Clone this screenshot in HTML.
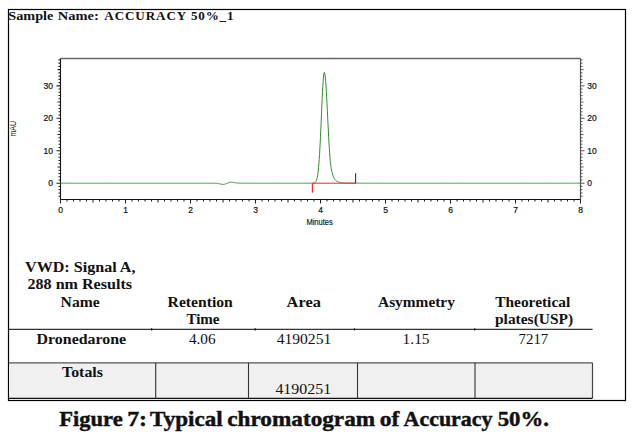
<!DOCTYPE html>
<html><head><meta charset="utf-8"><style>
html,body{margin:0;padding:0;background:#fff;width:632px;height:441px;overflow:hidden;font-family:"Liberation Sans",sans-serif;}
</style></head><body>
<svg width="632" height="441" viewBox="0 0 632 441" style="position:absolute;left:0;top:0">
<rect x="0" y="0" width="632" height="441" fill="#fff"/>
<rect x="8.5" y="9.5" width="617" height="391" fill="none" stroke="#000" stroke-width="1.2"/>
<path d="M60.5 58.5 H580.5" fill="none" stroke="#666" stroke-width="1.7"/>
<path d="M580.5 58.5 V199.5" fill="none" stroke="#555" stroke-width="1.2"/>
<path d="M60.5 58.5 V199.5 H580.5" fill="none" stroke="#111" stroke-width="1.1"/>
<path d="M58.50 196.18H60.50M58.50 192.94H60.50M58.50 189.69H60.50M58.50 186.44H60.50M56.50 183.20H60.50M58.50 179.95H60.50M58.50 176.71H60.50M58.50 173.46H60.50M58.50 170.22H60.50M57.50 166.97H60.50M58.50 163.73H60.50M58.50 160.48H60.50M58.50 157.24H60.50M58.50 153.99H60.50M56.50 150.75H60.50M58.50 147.50H60.50M58.50 144.26H60.50M58.50 141.01H60.50M58.50 137.77H60.50M57.50 134.52H60.50M58.50 131.28H60.50M58.50 128.03H60.50M58.50 124.79H60.50M58.50 121.54H60.50M56.50 118.30H60.50M58.50 115.05H60.50M58.50 111.81H60.50M58.50 108.56H60.50M58.50 105.32H60.50M57.50 102.07H60.50M58.50 98.83H60.50M58.50 95.58H60.50M58.50 92.34H60.50M58.50 89.09H60.50M56.50 85.85H60.50M58.50 82.60H60.50M58.50 79.36H60.50M58.50 76.11H60.50M58.50 72.87H60.50M57.50 69.62H60.50M58.50 66.38H60.50M58.50 63.13H60.50M58.50 59.89H60.50M60.50 199.50V203.50M67.00 199.50V201.50M73.50 199.50V201.50M80.00 199.50V201.50M86.50 199.50V201.50M93.00 199.50V202.50M99.50 199.50V201.50M106.00 199.50V201.50M112.50 199.50V201.50M119.00 199.50V201.50M125.50 199.50V203.50M132.00 199.50V201.50M138.50 199.50V201.50M145.00 199.50V201.50M151.50 199.50V201.50M158.00 199.50V202.50M164.50 199.50V201.50M171.00 199.50V201.50M177.50 199.50V201.50M184.00 199.50V201.50M190.50 199.50V203.50M197.00 199.50V201.50M203.50 199.50V201.50M210.00 199.50V201.50M216.50 199.50V201.50M223.00 199.50V202.50M229.50 199.50V201.50M236.00 199.50V201.50M242.50 199.50V201.50M249.00 199.50V201.50M255.50 199.50V203.50M262.00 199.50V201.50M268.50 199.50V201.50M275.00 199.50V201.50M281.50 199.50V201.50M288.00 199.50V202.50M294.50 199.50V201.50M301.00 199.50V201.50M307.50 199.50V201.50M314.00 199.50V201.50M320.50 199.50V203.50M327.00 199.50V201.50M333.50 199.50V201.50M340.00 199.50V201.50M346.50 199.50V201.50M353.00 199.50V202.50M359.50 199.50V201.50M366.00 199.50V201.50M372.50 199.50V201.50M379.00 199.50V201.50M385.50 199.50V203.50M392.00 199.50V201.50M398.50 199.50V201.50M405.00 199.50V201.50M411.50 199.50V201.50M418.00 199.50V202.50M424.50 199.50V201.50M431.00 199.50V201.50M437.50 199.50V201.50M444.00 199.50V201.50M450.50 199.50V203.50M457.00 199.50V201.50M463.50 199.50V201.50M470.00 199.50V201.50M476.50 199.50V201.50M483.00 199.50V202.50M489.50 199.50V201.50M496.00 199.50V201.50M502.50 199.50V201.50M509.00 199.50V201.50M515.50 199.50V203.50M522.00 199.50V201.50M528.50 199.50V201.50M535.00 199.50V201.50M541.50 199.50V201.50M548.00 199.50V202.50M554.50 199.50V201.50M561.00 199.50V201.50M567.50 199.50V201.50M574.00 199.50V201.50M580.50 199.50V203.50" stroke="#222" stroke-width="1.05" fill="none"/>
<path d="M580.50 196.18H582.50M580.50 192.94H582.50M580.50 189.69H582.50M580.50 186.44H582.50M580.50 183.20H584.50M580.50 179.95H582.50M580.50 176.71H582.50M580.50 173.46H582.50M580.50 170.22H582.50M580.50 166.97H583.50M580.50 163.73H582.50M580.50 160.48H582.50M580.50 157.24H582.50M580.50 153.99H582.50M580.50 150.75H584.50M580.50 147.50H582.50M580.50 144.26H582.50M580.50 141.01H582.50M580.50 137.77H582.50M580.50 134.52H583.50M580.50 131.28H582.50M580.50 128.03H582.50M580.50 124.79H582.50M580.50 121.54H582.50M580.50 118.30H584.50M580.50 115.05H582.50M580.50 111.81H582.50M580.50 108.56H582.50M580.50 105.32H582.50M580.50 102.07H583.50M580.50 98.83H582.50M580.50 95.58H582.50M580.50 92.34H582.50M580.50 89.09H582.50M580.50 85.85H584.50M580.50 82.60H582.50M580.50 79.36H582.50M580.50 76.11H582.50M580.50 72.87H582.50M580.50 69.62H583.50M580.50 66.38H582.50M580.50 63.13H582.50M580.50 59.89H582.50" stroke="#444" stroke-width="0.9" fill="none"/>
<text x="53.0" y="186.20" font-family="Liberation Sans, sans-serif" font-size="8.5" text-anchor="end" fill="#111" stroke="#111" stroke-width="0.2">0</text>
<text x="587.3" y="186.20" font-family="Liberation Sans, sans-serif" font-size="8.5" text-anchor="start" fill="#111" stroke="#111" stroke-width="0.2">0</text>
<text x="53.0" y="153.75" font-family="Liberation Sans, sans-serif" font-size="8.5" text-anchor="end" fill="#111" stroke="#111" stroke-width="0.2">10</text>
<text x="587.3" y="153.75" font-family="Liberation Sans, sans-serif" font-size="8.5" text-anchor="start" fill="#111" stroke="#111" stroke-width="0.2">10</text>
<text x="53.0" y="121.30" font-family="Liberation Sans, sans-serif" font-size="8.5" text-anchor="end" fill="#111" stroke="#111" stroke-width="0.2">20</text>
<text x="587.3" y="121.30" font-family="Liberation Sans, sans-serif" font-size="8.5" text-anchor="start" fill="#111" stroke="#111" stroke-width="0.2">20</text>
<text x="53.0" y="88.85" font-family="Liberation Sans, sans-serif" font-size="8.5" text-anchor="end" fill="#111" stroke="#111" stroke-width="0.2">30</text>
<text x="587.3" y="88.85" font-family="Liberation Sans, sans-serif" font-size="8.5" text-anchor="start" fill="#111" stroke="#111" stroke-width="0.2">30</text>
<text x="60.50" y="212.8" font-family="Liberation Sans, sans-serif" font-size="8.5" text-anchor="middle" fill="#111" stroke="#111" stroke-width="0.2">0</text>
<text x="125.50" y="212.8" font-family="Liberation Sans, sans-serif" font-size="8.5" text-anchor="middle" fill="#111" stroke="#111" stroke-width="0.2">1</text>
<text x="190.50" y="212.8" font-family="Liberation Sans, sans-serif" font-size="8.5" text-anchor="middle" fill="#111" stroke="#111" stroke-width="0.2">2</text>
<text x="255.50" y="212.8" font-family="Liberation Sans, sans-serif" font-size="8.5" text-anchor="middle" fill="#111" stroke="#111" stroke-width="0.2">3</text>
<text x="320.50" y="212.8" font-family="Liberation Sans, sans-serif" font-size="8.5" text-anchor="middle" fill="#111" stroke="#111" stroke-width="0.2">4</text>
<text x="385.50" y="212.8" font-family="Liberation Sans, sans-serif" font-size="8.5" text-anchor="middle" fill="#111" stroke="#111" stroke-width="0.2">5</text>
<text x="450.50" y="212.8" font-family="Liberation Sans, sans-serif" font-size="8.5" text-anchor="middle" fill="#111" stroke="#111" stroke-width="0.2">6</text>
<text x="515.50" y="212.8" font-family="Liberation Sans, sans-serif" font-size="8.5" text-anchor="middle" fill="#111" stroke="#111" stroke-width="0.2">7</text>
<text x="580.50" y="212.8" font-family="Liberation Sans, sans-serif" font-size="8.5" text-anchor="middle" fill="#111" stroke="#111" stroke-width="0.2">8</text>
<text x="306.4" y="224.9" font-family="Liberation Sans, sans-serif" font-size="8.2" fill="#111" stroke="#111" stroke-width="0.15" textLength="26.4" lengthAdjust="spacingAndGlyphs">Minutes</text>
<text transform="translate(16.2 128.8) rotate(-90)" font-family="Liberation Sans, sans-serif" font-size="8.8" text-anchor="middle" fill="#111" textLength="15.6" lengthAdjust="spacingAndGlyphs">mAU</text>
<polyline points="60.50,183.20 60.83,183.20 61.15,183.20 61.48,183.20 61.80,183.20 62.12,183.20 62.45,183.20 62.77,183.20 63.10,183.20 63.42,183.20 63.75,183.20 64.08,183.20 64.40,183.20 64.72,183.20 65.05,183.20 65.38,183.20 65.70,183.20 66.03,183.20 66.35,183.20 66.67,183.20 67.00,183.20 67.33,183.20 67.65,183.20 67.97,183.20 68.30,183.20 68.62,183.20 68.95,183.20 69.28,183.20 69.60,183.20 69.92,183.20 70.25,183.20 70.58,183.20 70.90,183.20 71.22,183.20 71.55,183.20 71.88,183.20 72.20,183.20 72.53,183.20 72.85,183.20 73.17,183.20 73.50,183.20 73.83,183.20 74.15,183.20 74.47,183.20 74.80,183.20 75.12,183.20 75.45,183.20 75.78,183.20 76.10,183.20 76.42,183.20 76.75,183.20 77.08,183.20 77.40,183.20 77.72,183.20 78.05,183.20 78.38,183.20 78.70,183.20 79.03,183.20 79.35,183.20 79.67,183.20 80.00,183.20 80.33,183.20 80.65,183.20 80.97,183.20 81.30,183.20 81.62,183.20 81.95,183.20 82.28,183.20 82.60,183.20 82.92,183.20 83.25,183.20 83.58,183.20 83.90,183.20 84.22,183.20 84.55,183.20 84.88,183.20 85.20,183.20 85.53,183.20 85.85,183.20 86.17,183.20 86.50,183.20 86.83,183.20 87.15,183.20 87.47,183.20 87.80,183.20 88.12,183.20 88.45,183.20 88.78,183.20 89.10,183.20 89.42,183.20 89.75,183.20 90.08,183.20 90.40,183.20 90.72,183.20 91.05,183.20 91.38,183.20 91.70,183.20 92.03,183.20 92.35,183.20 92.67,183.20 93.00,183.20 93.33,183.20 93.65,183.20 93.97,183.20 94.30,183.20 94.62,183.20 94.95,183.20 95.28,183.20 95.60,183.20 95.93,183.20 96.25,183.20 96.58,183.20 96.90,183.20 97.22,183.20 97.55,183.20 97.88,183.20 98.20,183.20 98.53,183.20 98.85,183.20 99.17,183.20 99.50,183.20 99.82,183.20 100.15,183.20 100.47,183.20 100.80,183.20 101.12,183.20 101.45,183.20 101.78,183.20 102.10,183.20 102.43,183.20 102.75,183.20 103.08,183.20 103.40,183.20 103.72,183.20 104.05,183.20 104.38,183.20 104.70,183.20 105.03,183.20 105.35,183.20 105.67,183.20 106.00,183.20 106.32,183.20 106.65,183.20 106.97,183.20 107.30,183.20 107.62,183.20 107.95,183.20 108.28,183.20 108.60,183.20 108.92,183.20 109.25,183.20 109.58,183.20 109.90,183.20 110.22,183.20 110.55,183.20 110.88,183.20 111.20,183.20 111.53,183.20 111.85,183.20 112.18,183.20 112.50,183.20 112.83,183.20 113.15,183.20 113.47,183.20 113.80,183.20 114.12,183.20 114.45,183.20 114.78,183.20 115.10,183.20 115.42,183.20 115.75,183.20 116.07,183.20 116.40,183.20 116.72,183.20 117.05,183.20 117.38,183.20 117.70,183.20 118.03,183.20 118.35,183.20 118.68,183.20 119.00,183.20 119.33,183.20 119.65,183.20 119.97,183.20 120.30,183.20 120.62,183.20 120.95,183.20 121.28,183.20 121.60,183.20 121.92,183.20 122.25,183.20 122.57,183.20 122.90,183.20 123.22,183.20 123.55,183.20 123.88,183.20 124.20,183.20 124.53,183.20 124.85,183.20 125.17,183.20 125.50,183.20 125.82,183.20 126.15,183.20 126.47,183.20 126.80,183.20 127.12,183.20 127.45,183.20 127.77,183.20 128.10,183.20 128.43,183.20 128.75,183.20 129.07,183.20 129.40,183.20 129.72,183.20 130.05,183.20 130.38,183.20 130.70,183.20 131.02,183.20 131.35,183.20 131.68,183.20 132.00,183.20 132.32,183.20 132.65,183.20 132.97,183.20 133.30,183.20 133.62,183.20 133.95,183.20 134.28,183.20 134.60,183.20 134.93,183.20 135.25,183.20 135.57,183.20 135.90,183.20 136.23,183.20 136.55,183.20 136.88,183.20 137.20,183.20 137.53,183.20 137.85,183.20 138.18,183.20 138.50,183.20 138.82,183.20 139.15,183.20 139.48,183.20 139.80,183.20 140.12,183.20 140.45,183.20 140.78,183.20 141.10,183.20 141.43,183.20 141.75,183.20 142.07,183.20 142.40,183.20 142.72,183.20 143.05,183.20 143.38,183.20 143.70,183.20 144.02,183.20 144.35,183.20 144.68,183.20 145.00,183.20 145.32,183.20 145.65,183.20 145.97,183.20 146.30,183.20 146.62,183.20 146.95,183.20 147.27,183.20 147.60,183.20 147.93,183.20 148.25,183.20 148.57,183.20 148.90,183.20 149.22,183.20 149.55,183.20 149.88,183.20 150.20,183.20 150.53,183.20 150.85,183.20 151.18,183.20 151.50,183.20 151.82,183.20 152.15,183.20 152.48,183.20 152.80,183.20 153.12,183.20 153.45,183.20 153.78,183.20 154.10,183.20 154.43,183.20 154.75,183.20 155.07,183.20 155.40,183.20 155.73,183.20 156.05,183.20 156.38,183.20 156.70,183.20 157.03,183.20 157.35,183.20 157.68,183.20 158.00,183.20 158.32,183.20 158.65,183.20 158.97,183.20 159.30,183.20 159.62,183.20 159.95,183.20 160.27,183.20 160.60,183.20 160.93,183.20 161.25,183.20 161.57,183.20 161.90,183.20 162.22,183.20 162.55,183.20 162.88,183.20 163.20,183.20 163.52,183.20 163.85,183.20 164.18,183.20 164.50,183.20 164.82,183.20 165.15,183.20 165.47,183.20 165.80,183.20 166.12,183.20 166.45,183.20 166.78,183.20 167.10,183.20 167.43,183.20 167.75,183.20 168.07,183.20 168.40,183.20 168.73,183.20 169.05,183.20 169.38,183.20 169.70,183.20 170.03,183.20 170.35,183.20 170.68,183.20 171.00,183.20 171.32,183.20 171.65,183.20 171.98,183.20 172.30,183.20 172.62,183.20 172.95,183.20 173.28,183.20 173.60,183.20 173.93,183.20 174.25,183.20 174.57,183.20 174.90,183.20 175.22,183.20 175.55,183.20 175.88,183.20 176.20,183.20 176.52,183.20 176.85,183.20 177.18,183.20 177.50,183.20 177.82,183.20 178.15,183.20 178.47,183.20 178.80,183.20 179.12,183.20 179.45,183.20 179.77,183.20 180.10,183.20 180.43,183.20 180.75,183.20 181.07,183.20 181.40,183.20 181.72,183.20 182.05,183.20 182.38,183.20 182.70,183.20 183.03,183.20 183.35,183.20 183.68,183.20 184.00,183.20 184.32,183.20 184.65,183.20 184.98,183.20 185.30,183.20 185.62,183.20 185.95,183.20 186.28,183.20 186.60,183.20 186.93,183.20 187.25,183.20 187.57,183.20 187.90,183.20 188.23,183.20 188.55,183.20 188.88,183.20 189.20,183.20 189.53,183.20 189.85,183.20 190.18,183.20 190.50,183.20 190.82,183.20 191.15,183.20 191.47,183.20 191.80,183.20 192.12,183.20 192.45,183.20 192.78,183.20 193.10,183.20 193.42,183.20 193.75,183.20 194.08,183.20 194.40,183.20 194.72,183.20 195.05,183.20 195.38,183.20 195.70,183.20 196.03,183.20 196.35,183.20 196.68,183.20 197.00,183.20 197.32,183.20 197.65,183.20 197.98,183.20 198.30,183.20 198.62,183.20 198.95,183.20 199.27,183.20 199.60,183.20 199.93,183.20 200.25,183.20 200.57,183.20 200.90,183.20 201.22,183.20 201.55,183.20 201.88,183.20 202.20,183.20 202.53,183.20 202.85,183.20 203.17,183.20 203.50,183.20 203.83,183.20 204.15,183.20 204.47,183.20 204.80,183.20 205.12,183.20 205.45,183.20 205.78,183.20 206.10,183.20 206.43,183.20 206.75,183.20 207.07,183.20 207.40,183.20 207.72,183.20 208.05,183.20 208.38,183.20 208.70,183.20 209.03,183.20 209.35,183.20 209.67,183.20 210.00,183.20 210.33,183.20 210.65,183.20 210.97,183.20 211.30,183.20 211.62,183.20 211.95,183.20 212.28,183.20 212.60,183.20 212.93,183.20 213.25,183.20 213.57,183.21 213.90,183.21 214.23,183.21 214.55,183.22 214.88,183.23 215.20,183.23 215.52,183.25 215.85,183.26 216.18,183.28 216.50,183.30 216.82,183.33 217.15,183.36 217.47,183.40 217.80,183.44 218.12,183.49 218.45,183.55 218.78,183.61 219.10,183.68 219.42,183.76 219.75,183.84 220.08,183.92 220.40,184.00 220.72,184.08 221.05,184.16 221.38,184.23 221.70,184.30 222.03,184.35 222.35,184.39 222.68,184.41 223.00,184.42 223.32,184.41 223.65,184.38 223.97,184.34 224.30,184.27 224.62,184.19 224.95,184.10 225.28,183.99 225.60,183.87 225.92,183.74 226.25,183.61 226.58,183.48 226.90,183.34 227.22,183.21 227.55,183.08 227.88,182.95 228.20,182.84 228.53,182.73 228.85,182.63 229.18,182.54 229.50,182.47 229.82,182.40 230.15,182.35 230.48,182.31 230.80,182.29 231.12,182.27 231.45,182.27 231.77,182.27 232.10,182.29 232.43,182.32 232.75,182.35 233.07,182.39 233.40,182.43 233.72,182.48 234.05,182.54 234.38,182.59 234.70,182.64 235.03,182.70 235.35,182.75 235.67,182.80 236.00,182.85 236.33,182.89 236.65,182.94 236.97,182.97 237.30,183.01 237.62,183.04 237.95,183.06 238.28,183.09 238.60,183.11 238.93,183.13 239.25,183.14 239.57,183.15 239.90,183.16 240.22,183.17 240.55,183.18 240.88,183.18 241.20,183.19 241.53,183.19 241.85,183.19 242.17,183.19 242.50,183.20 242.83,183.20 243.15,183.20 243.47,183.20 243.80,183.20 244.12,183.20 244.45,183.20 244.78,183.20 245.10,183.20 245.43,183.20 245.75,183.20 246.07,183.20 246.40,183.20 246.73,183.20 247.05,183.20 247.38,183.20 247.70,183.20 248.02,183.20 248.35,183.20 248.68,183.20 249.00,183.20 249.32,183.20 249.65,183.20 249.97,183.20 250.30,183.20 250.62,183.20 250.95,183.20 251.28,183.20 251.60,183.20 251.92,183.20 252.25,183.20 252.58,183.20 252.90,183.20 253.22,183.20 253.55,183.20 253.88,183.20 254.20,183.20 254.53,183.20 254.85,183.20 255.18,183.20 255.50,183.20 255.82,183.20 256.15,183.20 256.48,183.20 256.80,183.20 257.12,183.20 257.45,183.20 257.77,183.20 258.10,183.20 258.42,183.20 258.75,183.20 259.08,183.20 259.40,183.20 259.73,183.20 260.05,183.20 260.38,183.20 260.70,183.20 261.02,183.20 261.35,183.20 261.68,183.20 262.00,183.20 262.32,183.20 262.65,183.20 262.98,183.20 263.30,183.20 263.62,183.20 263.95,183.20 264.27,183.20 264.60,183.20 264.93,183.20 265.25,183.20 265.57,183.20 265.90,183.20 266.23,183.20 266.55,183.20 266.88,183.20 267.20,183.20 267.52,183.20 267.85,183.20 268.17,183.20 268.50,183.20 268.83,183.20 269.15,183.20 269.48,183.20 269.80,183.20 270.12,183.20 270.45,183.20 270.77,183.20 271.10,183.20 271.43,183.20 271.75,183.20 272.07,183.20 272.40,183.20 272.73,183.20 273.05,183.20 273.38,183.20 273.70,183.20 274.02,183.20 274.35,183.20 274.67,183.20 275.00,183.20 275.33,183.20 275.65,183.20 275.98,183.20 276.30,183.20 276.62,183.20 276.95,183.20 277.27,183.20 277.60,183.20 277.93,183.20 278.25,183.20 278.57,183.20 278.90,183.20 279.23,183.20 279.55,183.20 279.88,183.20 280.20,183.20 280.52,183.20 280.85,183.20 281.18,183.20 281.50,183.20 281.82,183.20 282.15,183.20 282.48,183.20 282.80,183.20 283.12,183.20 283.45,183.20 283.77,183.20 284.10,183.20 284.42,183.20 284.75,183.20 285.08,183.20 285.40,183.20 285.73,183.20 286.05,183.20 286.38,183.20 286.70,183.20 287.02,183.20 287.35,183.20 287.68,183.20 288.00,183.20 288.32,183.20 288.65,183.20 288.98,183.20 289.30,183.20 289.62,183.20 289.95,183.20 290.27,183.20 290.60,183.20 290.92,183.20 291.25,183.20 291.58,183.20 291.90,183.20 292.23,183.20 292.55,183.20 292.88,183.20 293.20,183.20 293.52,183.20 293.85,183.20 294.18,183.20 294.50,183.20 294.82,183.20 295.15,183.20 295.48,183.20 295.80,183.20 296.12,183.20 296.45,183.20 296.77,183.20 297.10,183.20 297.43,183.20 297.75,183.20 298.07,183.20 298.40,183.20 298.73,183.20 299.05,183.20 299.38,183.20 299.70,183.20 300.02,183.20 300.35,183.20 300.67,183.20 301.00,183.20 301.33,183.20 301.65,183.20 301.98,183.20 302.30,183.20 302.62,183.20 302.95,183.20 303.27,183.20 303.60,183.20 303.93,183.20 304.25,183.20 304.57,183.20 304.90,183.20 305.23,183.20 305.55,183.20 305.88,183.20 306.20,183.20 306.52,183.20 306.85,183.20 307.17,183.20 307.50,183.20 307.83,183.20 308.15,183.20 308.48,183.20 308.80,183.20 309.12,183.20 309.45,183.20 309.77,183.20 310.10,183.20 310.43,183.20 310.75,183.20 311.07,183.20 311.40,183.19 311.73,183.19 312.05,183.19 312.38,183.18 312.70,183.16 313.02,183.14 313.35,183.11 313.68,183.06 314.00,183.00 314.32,182.90 314.65,182.76 314.98,182.57 315.30,182.30 315.62,181.93 315.95,181.44 316.27,180.79 316.60,179.93 316.93,178.83 317.25,177.42 317.57,175.66 317.90,173.48 318.22,170.83 318.55,167.66 318.88,163.91 319.20,159.56 319.52,154.59 319.85,149.01 320.18,142.85 320.50,136.17 320.82,129.07 321.15,121.68 321.47,114.15 321.80,106.66 322.12,99.43 322.45,92.65 322.78,86.55 323.10,81.33 323.43,77.16 323.75,74.20 324.07,72.55 324.40,72.27 324.73,73.14 325.05,75.05 325.38,77.96 325.70,81.77 326.02,86.39 326.35,91.70 326.68,97.54 327.00,103.79 327.33,110.29 327.65,116.91 327.98,123.51 328.30,129.96 328.62,136.18 328.95,142.08 329.27,147.58 329.60,152.64 329.92,157.24 330.25,161.36 330.57,164.06 330.90,166.30 331.23,168.27 331.55,170.01 331.88,171.55 332.20,172.90 332.52,174.09 332.85,175.14 333.18,176.06 333.50,176.87 333.82,177.58 334.15,178.21 334.47,178.76 334.80,179.25 335.12,179.68 335.45,180.06 335.78,180.40 336.10,180.69 336.43,180.95 336.75,181.19 337.07,181.39 337.40,181.58 337.72,181.74 338.05,181.88 338.38,182.01 338.70,182.13 339.03,182.23 339.35,182.32 339.68,182.40 340.00,182.48 340.32,182.54 340.65,182.60 340.98,182.65 341.30,182.70 341.62,182.74 341.95,182.78 342.27,182.82 342.60,182.85 342.93,182.88 343.25,182.91 343.58,182.93 343.90,182.95 344.23,182.97 344.55,182.99 344.88,183.00 345.20,183.02 345.52,183.03 345.85,183.04 346.17,183.06 346.50,183.07 346.82,183.08 347.15,183.08 347.48,183.09 347.80,183.10 348.12,183.11 348.45,183.11 348.77,183.12 349.10,183.12 349.43,183.13 349.75,183.13 350.07,183.14 350.40,183.14 350.72,183.15 351.05,183.15 351.38,183.15 351.70,183.15 352.03,183.16 352.35,183.16 352.68,183.16 353.00,183.16 353.32,183.17 353.65,183.17 353.97,183.17 354.30,183.17 354.62,183.17 354.95,183.17 355.28,183.18 355.60,183.18 355.93,183.18 356.25,183.18 356.57,183.18 356.90,183.18 357.23,183.18 357.55,183.18 357.88,183.18 358.20,183.18 358.52,183.19 358.85,183.19 359.18,183.19 359.50,183.19 359.83,183.19 360.15,183.19 360.48,183.19 360.80,183.19 361.12,183.19 361.45,183.19 361.77,183.19 362.10,183.19 362.42,183.19 362.75,183.19 363.07,183.19 363.40,183.19 363.73,183.19 364.05,183.19 364.38,183.19 364.70,183.19 365.02,183.19 365.35,183.19 365.68,183.19 366.00,183.19 366.32,183.19 366.65,183.19 366.97,183.20 367.30,183.20 367.62,183.20 367.95,183.20 368.28,183.20 368.60,183.20 368.93,183.20 369.25,183.20 369.57,183.20 369.90,183.20 370.22,183.20 370.55,183.20 370.88,183.20 371.20,183.20 371.53,183.20 371.85,183.20 372.18,183.20 372.50,183.20 372.82,183.20 373.15,183.20 373.48,183.20 373.80,183.20 374.12,183.20 374.45,183.20 374.77,183.20 375.10,183.20 375.43,183.20 375.75,183.20 376.08,183.20 376.40,183.20 376.73,183.20 377.05,183.20 377.38,183.20 377.70,183.20 378.02,183.20 378.35,183.20 378.67,183.20 379.00,183.20 379.32,183.20 379.65,183.20 379.98,183.20 380.30,183.20 380.62,183.20 380.95,183.20 381.27,183.20 381.60,183.20 381.93,183.20 382.25,183.20 382.57,183.20 382.90,183.20 383.22,183.20 383.55,183.20 383.88,183.20 384.20,183.20 384.53,183.20 384.85,183.20 385.18,183.20 385.50,183.20 385.82,183.20 386.15,183.20 386.47,183.20 386.80,183.20 387.12,183.20 387.45,183.20 387.78,183.20 388.10,183.20 388.43,183.20 388.75,183.20 389.07,183.20 389.40,183.20 389.73,183.20 390.05,183.20 390.38,183.20 390.70,183.20 391.02,183.20 391.35,183.20 391.68,183.20 392.00,183.20 392.33,183.20 392.65,183.20 392.98,183.20 393.30,183.20 393.62,183.20 393.95,183.20 394.27,183.20 394.60,183.20 394.92,183.20 395.25,183.20 395.57,183.20 395.90,183.20 396.23,183.20 396.55,183.20 396.88,183.20 397.20,183.20 397.52,183.20 397.85,183.20 398.18,183.20 398.50,183.20 398.82,183.20 399.15,183.20 399.47,183.20 399.80,183.20 400.12,183.20 400.45,183.20 400.78,183.20 401.10,183.20 401.43,183.20 401.75,183.20 402.07,183.20 402.40,183.20 402.72,183.20 403.05,183.20 403.38,183.20 403.70,183.20 404.03,183.20 404.35,183.20 404.68,183.20 405.00,183.20 405.32,183.20 405.65,183.20 405.98,183.20 406.30,183.20 406.62,183.20 406.95,183.20 407.27,183.20 407.60,183.20 407.93,183.20 408.25,183.20 408.58,183.20 408.90,183.20 409.23,183.20 409.55,183.20 409.88,183.20 410.20,183.20 410.52,183.20 410.85,183.20 411.17,183.20 411.50,183.20 411.82,183.20 412.15,183.20 412.48,183.20 412.80,183.20 413.12,183.20 413.45,183.20 413.77,183.20 414.10,183.20 414.43,183.20 414.75,183.20 415.07,183.20 415.40,183.20 415.72,183.20 416.05,183.20 416.38,183.20 416.70,183.20 417.03,183.20 417.35,183.20 417.68,183.20 418.00,183.20 418.32,183.20 418.65,183.20 418.97,183.20 419.30,183.20 419.62,183.20 419.95,183.20 420.28,183.20 420.60,183.20 420.93,183.20 421.25,183.20 421.57,183.20 421.90,183.20 422.23,183.20 422.55,183.20 422.88,183.20 423.20,183.20 423.52,183.20 423.85,183.20 424.18,183.20 424.50,183.20 424.83,183.20 425.15,183.20 425.48,183.20 425.80,183.20 426.12,183.20 426.45,183.20 426.77,183.20 427.10,183.20 427.42,183.20 427.75,183.20 428.07,183.20 428.40,183.20 428.73,183.20 429.05,183.20 429.38,183.20 429.70,183.20 430.02,183.20 430.35,183.20 430.68,183.20 431.00,183.20 431.32,183.20 431.65,183.20 431.97,183.20 432.30,183.20 432.62,183.20 432.95,183.20 433.28,183.20 433.60,183.20 433.93,183.20 434.25,183.20 434.57,183.20 434.90,183.20 435.22,183.20 435.55,183.20 435.88,183.20 436.20,183.20 436.53,183.20 436.85,183.20 437.18,183.20 437.50,183.20 437.82,183.20 438.15,183.20 438.48,183.20 438.80,183.20 439.12,183.20 439.45,183.20 439.77,183.20 440.10,183.20 440.43,183.20 440.75,183.20 441.08,183.20 441.40,183.20 441.73,183.20 442.05,183.20 442.38,183.20 442.70,183.20 443.02,183.20 443.35,183.20 443.67,183.20 444.00,183.20 444.32,183.20 444.65,183.20 444.98,183.20 445.30,183.20 445.62,183.20 445.95,183.20 446.27,183.20 446.60,183.20 446.93,183.20 447.25,183.20 447.57,183.20 447.90,183.20 448.22,183.20 448.55,183.20 448.88,183.20 449.20,183.20 449.53,183.20 449.85,183.20 450.18,183.20 450.50,183.20 450.82,183.20 451.15,183.20 451.47,183.20 451.80,183.20 452.12,183.20 452.45,183.20 452.78,183.20 453.10,183.20 453.43,183.20 453.75,183.20 454.07,183.20 454.40,183.20 454.73,183.20 455.05,183.20 455.38,183.20 455.70,183.20 456.02,183.20 456.35,183.20 456.68,183.20 457.00,183.20 457.33,183.20 457.65,183.20 457.98,183.20 458.30,183.20 458.62,183.20 458.95,183.20 459.27,183.20 459.60,183.20 459.92,183.20 460.25,183.20 460.57,183.20 460.90,183.20 461.23,183.20 461.55,183.20 461.88,183.20 462.20,183.20 462.52,183.20 462.85,183.20 463.18,183.20 463.50,183.20 463.82,183.20 464.15,183.20 464.47,183.20 464.80,183.20 465.12,183.20 465.45,183.20 465.78,183.20 466.10,183.20 466.43,183.20 466.75,183.20 467.07,183.20 467.40,183.20 467.72,183.20 468.05,183.20 468.38,183.20 468.70,183.20 469.03,183.20 469.35,183.20 469.68,183.20 470.00,183.20 470.32,183.20 470.65,183.20 470.98,183.20 471.30,183.20 471.62,183.20 471.95,183.20 472.27,183.20 472.60,183.20 472.93,183.20 473.25,183.20 473.58,183.20 473.90,183.20 474.23,183.20 474.55,183.20 474.88,183.20 475.20,183.20 475.52,183.20 475.85,183.20 476.17,183.20 476.50,183.20 476.82,183.20 477.15,183.20 477.48,183.20 477.80,183.20 478.12,183.20 478.45,183.20 478.77,183.20 479.10,183.20 479.43,183.20 479.75,183.20 480.07,183.20 480.40,183.20 480.72,183.20 481.05,183.20 481.38,183.20 481.70,183.20 482.03,183.20 482.35,183.20 482.68,183.20 483.00,183.20 483.32,183.20 483.65,183.20 483.97,183.20 484.30,183.20 484.62,183.20 484.95,183.20 485.28,183.20 485.60,183.20 485.93,183.20 486.25,183.20 486.57,183.20 486.90,183.20 487.23,183.20 487.55,183.20 487.88,183.20 488.20,183.20 488.52,183.20 488.85,183.20 489.18,183.20 489.50,183.20 489.83,183.20 490.15,183.20 490.48,183.20 490.80,183.20 491.12,183.20 491.45,183.20 491.77,183.20 492.10,183.20 492.42,183.20 492.75,183.20 493.07,183.20 493.40,183.20 493.73,183.20 494.05,183.20 494.38,183.20 494.70,183.20 495.02,183.20 495.35,183.20 495.68,183.20 496.00,183.20 496.32,183.20 496.65,183.20 496.97,183.20 497.30,183.20 497.62,183.20 497.95,183.20 498.28,183.20 498.60,183.20 498.93,183.20 499.25,183.20 499.57,183.20 499.90,183.20 500.22,183.20 500.55,183.20 500.88,183.20 501.20,183.20 501.53,183.20 501.85,183.20 502.18,183.20 502.50,183.20 502.82,183.20 503.15,183.20 503.48,183.20 503.80,183.20 504.12,183.20 504.45,183.20 504.77,183.20 505.10,183.20 505.43,183.20 505.75,183.20 506.08,183.20 506.40,183.20 506.73,183.20 507.05,183.20 507.38,183.20 507.70,183.20 508.02,183.20 508.35,183.20 508.67,183.20 509.00,183.20 509.32,183.20 509.65,183.20 509.98,183.20 510.30,183.20 510.62,183.20 510.95,183.20 511.27,183.20 511.60,183.20 511.93,183.20 512.25,183.20 512.58,183.20 512.90,183.20 513.22,183.20 513.55,183.20 513.88,183.20 514.20,183.20 514.53,183.20 514.85,183.20 515.17,183.20 515.50,183.20 515.83,183.20 516.15,183.20 516.47,183.20 516.80,183.20 517.12,183.20 517.45,183.20 517.78,183.20 518.10,183.20 518.42,183.20 518.75,183.20 519.08,183.20 519.40,183.20 519.73,183.20 520.05,183.20 520.38,183.20 520.70,183.20 521.02,183.20 521.35,183.20 521.67,183.20 522.00,183.20 522.33,183.20 522.65,183.20 522.98,183.20 523.30,183.20 523.62,183.20 523.95,183.20 524.27,183.20 524.60,183.20 524.92,183.20 525.25,183.20 525.58,183.20 525.90,183.20 526.23,183.20 526.55,183.20 526.88,183.20 527.20,183.20 527.52,183.20 527.85,183.20 528.17,183.20 528.50,183.20 528.83,183.20 529.15,183.20 529.47,183.20 529.80,183.20 530.12,183.20 530.45,183.20 530.78,183.20 531.10,183.20 531.42,183.20 531.75,183.20 532.08,183.20 532.40,183.20 532.72,183.20 533.05,183.20 533.38,183.20 533.70,183.20 534.03,183.20 534.35,183.20 534.67,183.20 535.00,183.20 535.33,183.20 535.65,183.20 535.98,183.20 536.30,183.20 536.62,183.20 536.95,183.20 537.27,183.20 537.60,183.20 537.92,183.20 538.25,183.20 538.58,183.20 538.90,183.20 539.23,183.20 539.55,183.20 539.88,183.20 540.20,183.20 540.52,183.20 540.85,183.20 541.17,183.20 541.50,183.20 541.83,183.20 542.15,183.20 542.48,183.20 542.80,183.20 543.12,183.20 543.45,183.20 543.77,183.20 544.10,183.20 544.42,183.20 544.75,183.20 545.08,183.20 545.40,183.20 545.72,183.20 546.05,183.20 546.38,183.20 546.70,183.20 547.03,183.20 547.35,183.20 547.67,183.20 548.00,183.20 548.33,183.20 548.65,183.20 548.97,183.20 549.30,183.20 549.62,183.20 549.95,183.20 550.28,183.20 550.60,183.20 550.92,183.20 551.25,183.20 551.58,183.20 551.90,183.20 552.23,183.20 552.55,183.20 552.88,183.20 553.20,183.20 553.52,183.20 553.85,183.20 554.17,183.20 554.50,183.20 554.83,183.20 555.15,183.20 555.48,183.20 555.80,183.20 556.12,183.20 556.45,183.20 556.77,183.20 557.10,183.20 557.42,183.20 557.75,183.20 558.08,183.20 558.40,183.20 558.73,183.20 559.05,183.20 559.38,183.20 559.70,183.20 560.02,183.20 560.35,183.20 560.67,183.20 561.00,183.20 561.33,183.20 561.65,183.20 561.97,183.20 562.30,183.20 562.62,183.20 562.95,183.20 563.28,183.20 563.60,183.20 563.92,183.20 564.25,183.20 564.58,183.20 564.90,183.20 565.22,183.20 565.55,183.20 565.88,183.20 566.20,183.20 566.53,183.20 566.85,183.20 567.17,183.20 567.50,183.20 567.83,183.20 568.15,183.20 568.48,183.20 568.80,183.20 569.12,183.20 569.45,183.20 569.77,183.20 570.10,183.20 570.42,183.20 570.75,183.20 571.08,183.20 571.40,183.20 571.73,183.20 572.05,183.20 572.38,183.20 572.70,183.20 573.02,183.20 573.35,183.20 573.67,183.20 574.00,183.20 574.33,183.20 574.65,183.20 574.98,183.20 575.30,183.20 575.62,183.20 575.95,183.20 576.27,183.20 576.60,183.20 576.93,183.20 577.25,183.20 577.58,183.20 577.90,183.20 578.23,183.20 578.55,183.20 578.88,183.20 579.20,183.20 579.52,183.20 579.85,183.20 580.17,183.20 580.50,183.20" fill="none" stroke="#2f8f2f" stroke-width="1.0"/>
<path d="M312.4 183.20H355.6" stroke="#ff2020" stroke-width="1.0"/>
<path d="M312.4 183.20V192.8" stroke="#ff2020" stroke-width="1.1"/>
<path d="M355.6 173.2V183.20" stroke="#1a1aff" stroke-width="1.1"/>
<rect x="9" y="362.8" width="583.5" height="35.6" fill="#f0f0f0"/>
<path d="M9 362.8H592.5" fill="none" stroke="#555" stroke-width="1.3"/>
<path d="M592.5 362.8V398.3" fill="none" stroke="#444" stroke-width="1.2"/>
<path d="M9 398.3H592.5" fill="none" stroke="#111" stroke-width="1.2"/>
<path d="M155.7 362.8V398.4" stroke="#333" stroke-width="1.1"/>
<path d="M248.5 362.8V398.4" stroke="#333" stroke-width="1.1"/>
<path d="M357.5 362.8V398.4" stroke="#333" stroke-width="1.1"/>
<path d="M475 362.8V398.4" stroke="#333" stroke-width="1.1"/>
<path d="M9 329.3H592.6" stroke="#333" stroke-width="1.2"/>
<path d="M151.6 328.2V330.4" stroke="#111" stroke-width="1.2"/>
<path d="M255.2 328.2V330.4" stroke="#111" stroke-width="1.2"/>
<path d="M354.5 328.2V330.4" stroke="#111" stroke-width="1.2"/>
<path d="M474.7 328.2V330.4" stroke="#111" stroke-width="1.2"/>
<text x="8.3" y="19.5" font-family="Liberation Serif, serif" font-size="13.1" font-weight="bold" fill="#111" textLength="45.07" lengthAdjust="spacingAndGlyphs">Sample</text>
<text x="57.8" y="19.5" font-family="Liberation Serif, serif" font-size="13.1" font-weight="bold" fill="#111" textLength="40.93" lengthAdjust="spacingAndGlyphs">Name:</text>
<text x="104.3" y="19.5" font-family="Liberation Serif, serif" font-size="13.1" font-weight="bold" fill="#111" textLength="81.95" lengthAdjust="spacing">ACCURACY</text>
<text x="190.9" y="19.5" font-family="Liberation Serif, serif" font-size="13.1" font-weight="bold" fill="#111" textLength="42.63" lengthAdjust="spacing">50%_1</text>
<text x="25.0" y="272.2" font-family="Liberation Serif, serif" font-size="14" font-weight="bold" fill="#111" textLength="110.48" lengthAdjust="spacingAndGlyphs">VWD: Signal A,</text>
<text x="27.5" y="289.3" font-family="Liberation Serif, serif" font-size="14" font-weight="bold" fill="#111" textLength="104.54" lengthAdjust="spacingAndGlyphs">288 nm Results</text>
<text x="60.6" y="307.2" font-family="Liberation Serif, serif" font-size="14" font-weight="bold" fill="#111" textLength="39.11" lengthAdjust="spacingAndGlyphs">Name</text>
<text x="167.6" y="307.2" font-family="Liberation Serif, serif" font-size="14" font-weight="bold" fill="#111" textLength="65.24" lengthAdjust="spacingAndGlyphs">Retention</text>
<text x="186.4" y="323.6" font-family="Liberation Serif, serif" font-size="14" font-weight="bold" fill="#111" textLength="33.15" lengthAdjust="spacingAndGlyphs">Time</text>
<text x="286.63" y="307.2" font-family="Liberation Serif, serif" font-size="14" font-weight="bold" fill="#111" textLength="34.21" lengthAdjust="spacingAndGlyphs">Area</text>
<text x="378.04" y="307.2" font-family="Liberation Serif, serif" font-size="14" font-weight="bold" fill="#111" textLength="76.87" lengthAdjust="spacingAndGlyphs">Asymmetry</text>
<text x="495.3" y="307.2" font-family="Liberation Serif, serif" font-size="14" font-weight="bold" fill="#111" textLength="74.89" lengthAdjust="spacingAndGlyphs">Theoretical</text>
<text x="495.0" y="323.6" font-family="Liberation Serif, serif" font-size="14" font-weight="bold" fill="#111" textLength="78.12" lengthAdjust="spacingAndGlyphs">plates(USP)</text>
<text x="36.6" y="343.8" font-family="Liberation Serif, serif" font-size="14" font-weight="bold" fill="#111" textLength="89.52" lengthAdjust="spacingAndGlyphs">Dronedarone</text>
<text x="188.9" y="343.6" font-family="Liberation Serif, serif" font-size="14" fill="#111" textLength="26.71" lengthAdjust="spacingAndGlyphs">4.06</text>
<text x="276.7" y="343.6" font-family="Liberation Serif, serif" font-size="14" fill="#111" textLength="54.54" lengthAdjust="spacingAndGlyphs">4190251</text>
<text x="402.6" y="343.6" font-family="Liberation Serif, serif" font-size="14" fill="#111" textLength="26.97" lengthAdjust="spacingAndGlyphs">1.15</text>
<text x="518.6" y="343.8" font-family="Liberation Serif, serif" font-size="14" fill="#111" textLength="29.63" lengthAdjust="spacingAndGlyphs">7217</text>
<text x="62.0" y="377.1" font-family="Liberation Serif, serif" font-size="14" font-weight="bold" fill="#111" textLength="40.93" lengthAdjust="spacingAndGlyphs">Totals</text>
<text x="275.4" y="394.0" font-family="Liberation Serif, serif" font-size="14" fill="#111" textLength="55.76" lengthAdjust="spacingAndGlyphs">4190251</text>
<text x="59.3" y="425.7" font-family="Liberation Serif, serif" font-size="22" font-weight="bold" stroke="#111" stroke-width="0.45" fill="#111" textLength="63.4" lengthAdjust="spacingAndGlyphs">Figure</text>
<text x="127.2" y="425.7" font-family="Liberation Serif, serif" font-size="22" font-weight="bold" stroke="#111" stroke-width="0.45" fill="#111" textLength="19.87" lengthAdjust="spacingAndGlyphs">7:</text>
<text x="150.0" y="425.7" font-family="Liberation Serif, serif" font-size="22" font-weight="bold" stroke="#111" stroke-width="0.45" fill="#111" textLength="72.68" lengthAdjust="spacingAndGlyphs">Typical</text>
<text x="227.2" y="425.7" font-family="Liberation Serif, serif" font-size="22" font-weight="bold" stroke="#111" stroke-width="0.45" fill="#111" textLength="147.97" lengthAdjust="spacingAndGlyphs">chromatogram</text>
<text x="379.7" y="425.7" font-family="Liberation Serif, serif" font-size="22" font-weight="bold" stroke="#111" stroke-width="0.45" fill="#111" textLength="19.56" lengthAdjust="spacingAndGlyphs">of</text>
<text x="403.6" y="425.7" font-family="Liberation Serif, serif" font-size="22" font-weight="bold" stroke="#111" stroke-width="0.45" fill="#111" textLength="88.89" lengthAdjust="spacingAndGlyphs">Accuracy</text>
<text x="497.7" y="425.7" font-family="Liberation Serif, serif" font-size="22" font-weight="bold" stroke="#111" stroke-width="0.45" fill="#111" textLength="51.25" lengthAdjust="spacingAndGlyphs">50%.</text>
</svg>
</body></html>
